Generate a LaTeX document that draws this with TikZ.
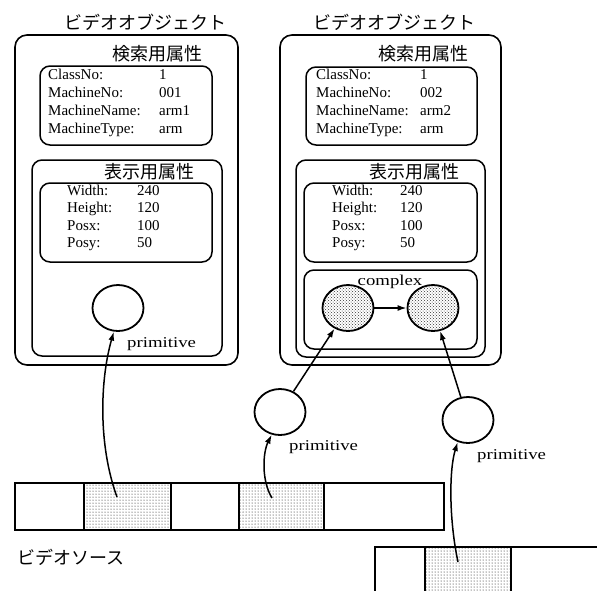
\documentclass[tikz,border=0pt]{standalone}
\usepackage{fontspec}
\setmainfont{Liberation Serif}
\newfontfamily\jpfont{Noto Sans CJK JP}
\newfontfamily\widefont[FakeStretch=1.25]{Liberation Serif}
\usetikzlibrary{positioning,arrows.meta,patterns,shapes.geometric}
\tikzset{
    box/.style={draw, line width=1.6pt, rounded corners=12pt},
    inbox/.style={draw, line width=1.5pt, rounded corners=10pt},
    attr/.style={inner sep=0pt, anchor=mid west, font=\fontsize{15}{17}\selectfont},
    jp/.style={inner sep=0pt, font=\fontsize{18}{20}\jpfont},
    lbl/.style={inner sep=0pt, anchor=mid west, font=\fontsize{15}{17}\widefont},
    obj/.style={ellipse, draw, line width=1.8pt, minimum width=51pt, minimum height=46pt, inner sep=0pt},
    objs/.style={obj, pattern=crosshatch dots, pattern color=black!80},
    frame/.style={rectangle, draw, line width=1.5pt, minimum height=47pt, inner sep=0pt, anchor=north west},
    hitframe/.style={frame, pattern=dots},
    link/.style={-{Latex[length=9pt,width=6pt]}, line width=1.5pt},
}
\begin{document}
\begin{tikzpicture}[x=1pt,y=-1pt]
      \useasboundingbox (0,0) rectangle (597,590);
      \clip (0,0) rectangle (597,590);
      % left video object
      \node[jp] (title1) at (145,22) {ビデオオブジェクト};
      \draw[box] (15,35) rectangle (238,365);
      \node[jp] (key1) at (157,54) {検索用属性};
      \draw[inbox] (40,66) rectangle (212,145);
      \foreach \lab/\val [count=\i] in {ClassNo:/1,MachineNo:/001,MachineName:/arm1,MachineType:/arm}{
      \node[attr] (ka\i) at (48,59+18*\i) {\lab};
      \node[attr] (kv\i) at (159,59+18*\i) {\val};
      }
      \draw[inbox] (32,160) rectangle (222,356);
      \node[jp] (disp1) at (149,172) {表示用属性};
      \draw[inbox] (40,183) rectangle (212,262);
      \foreach \lab/\val [count=\i] in {Width:/240,Height:/120,Posx:/100,Posy:/50}{
      \node[attr] (da\i) at (67,176+17.3*\i) {\lab};
      \node[attr] (dv\i) at (137,176+17.3*\i) {\val};
      }
      \node[obj] (prim) at (118,308) {};
      \node[lbl] (primlbl) at (127,345) {primitive};

      % right video object
      \node[jp] (title2) at (394,22) {ビデオオブジェクト};
      \draw[box] (280,35) rectangle (501,365);
      \node[jp] (key2) at (423,54) {検索用属性};
      \draw[inbox] (306,67) rectangle (477,145);
      \foreach \lab/\val [count=\i] in {ClassNo:/1,MachineNo:/002,MachineName:/arm2,MachineType:/arm}{
      \node[attr] (kb\i) at (316,59+18*\i) {\lab};
      \node[attr] (kw\i) at (420,59+18*\i) {\val};
      }
      \draw[inbox] (296,160) rectangle (485,357);
      \node[jp] (disp2) at (414,172) {表示用属性};
      \draw[inbox] (304,183) rectangle (477,262);
      \foreach \lab/\val [count=\i] in {Width:/240,Height:/120,Posx:/100,Posy:/50}{
      \node[attr] (db\i) at (332,176+17.3*\i) {\lab};
      \node[attr] (dw\i) at (400,176+17.3*\i) {\val};
      }
      \draw[inbox] (304,270) rectangle (477,349);
      \node[lbl, anchor=center] (cpxlbl) at (390,282) {complex};
      \node[objs] (sub1) at (348,308) {};
      \node[objs] (sub2) at (433,308) {};
      \draw[link] (sub1) -- (sub2);

      % primitives outside
      \node[obj] (primA) at (280,412) {};
      \node[lbl] (primAlbl) at (289,448) {primitive};
      \node[obj] (primB) at (468,420) {};
      \node[lbl] (primBlbl) at (477,457) {primitive};
      \draw[link] (primA) -- (sub1);
      \draw[link] (primB) -- (sub2);

      % video sources
      \foreach \x/\w/\s [count=\i] in {14/69/frame,83/87/hitframe,170/68/frame,238/85/hitframe,323/120/frame}
      \node[\s, minimum width=\w pt] (f\i) at (\x,482) {};
      \node[jp, anchor=west] (srclbl) at (17,557) {ビデオソース};
      \foreach \x/\w/\s [count=\i] in {374/50/frame,424/86/hitframe,510/87/frame}
      \node[\s, minimum width=\w pt, minimum height=60pt] (g\i) at (\x,546) {};

      \coordinate (src1) at (117,497);
      \coordinate (src2) at (272,498);
      \coordinate (src3) at (458,562);
      \draw[link] (src1) .. controls (98,445) and (100,380) .. (prim.260);
      \draw[link] (src2) .. controls (261,480) and (263,452) .. (primA.250);
      \draw[link] (src3) .. controls (449,520) and (449,470) .. (primB.245);
\end{tikzpicture}
\end{document}
